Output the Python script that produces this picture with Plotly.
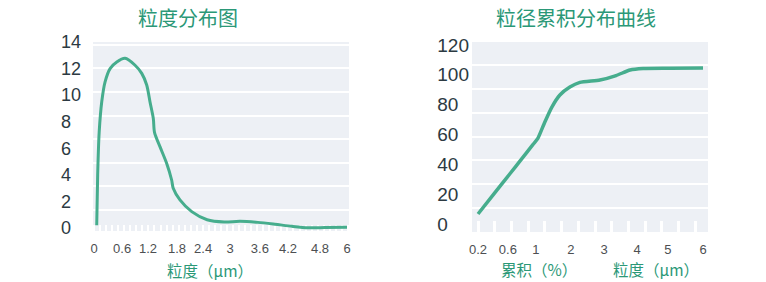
import numpy as np
import plotly.graph_objects as go

# ---------------- particle size distribution ----------------
size_tick_um = [0, 0.6, 1.2, 1.8, 2.4, 3, 3.6, 4.2, 4.8, 6]
size_tick_text = ["0", "0.6", "1.2", "1.8", "2.4", "3", "3.6", "4.2", "4.8", "6"]
freq_ticks = [0, 2, 4, 6, 8, 10, 12, 14]

dist_um = [0.058, 0.078, 0.11, 0.165, 0.236, 0.343, 0.486, 0.669, 0.90, 1.055,
           1.17, 1.241, 1.31, 1.335, 1.448, 1.586, 1.69, 1.723, 1.869, 2.139,
           2.489, 2.867, 3.2, 3.56, 3.92, 4.275, 4.58, 5.02, 6.0]
dist_val = [0.2, 4.0, 7.2, 9.5, 11.0, 12.0, 12.5, 12.77, 12.25, 11.64,
            10.76, 9.5, 8.25, 7.2, 6.12, 4.87, 3.61, 2.99, 2.11, 1.23,
            0.62, 0.45, 0.5, 0.42, 0.28, 0.12, 0.01, 0.03, 0.06]

# ---------------- cumulative distribution ----------------
cum_tick_um = [0.2, 0.6, 1, 2, 3, 4, 5, 6]
cum_tick_text = ["0.2", "0.6", "1", "2", "3", "4", "5", "6"]
cum_ticks = [0, 20, 40, 60, 80, 100, 120]

cum_um = [0.2, 0.413, 0.629, 0.80, 0.957, 1.057, 1.257, 1.457, 1.686, 1.971,
          2.273, 2.879, 3.364, 3.788, 4.194, 5.059, 6.0]
cum_val = [6.7, 20.2, 33.7, 43.8, 53.2, 57.4, 68.4, 78.4, 86.5, 91.8,
           94.9, 96.5, 99.5, 103.2, 104.2, 104.4, 104.6]

# where each tick label sits along its axis (axis units = label slots)
size_tick_slot = [0, 1.0, 1.92, 2.95, 3.88, 4.84, 5.9, 6.9, 8.04, 9.0]
cum_tick_slot = [0, 0.93, 1.8, 2.89, 3.92, 4.95, 5.91, 7.0]

W, H = 766, 282
LINE = "#46ad8d"
GREEN = "#2b9877"
DARK = "#2c3a42"
GREY = "#4d4f52"
CJK = "Noto Sans CJK SC, sans-serif"
NUM = "Liberation Sans, Arial, sans-serif"
NARROW = "Liberation Sans Narrow, Arial Narrow, sans-serif"


def on_tick_scale(values, ticks, slots):
    """Place values on the (non-uniform) label scale of the axis."""
    return np.interp(values, ticks, slots)


def left_aligned(labels):
    width = max(len(s) for s in labels)
    return [s + "\u2007" * (width - len(s)) for s in labels]


def dom_x(a, b):
    return [a / W, b / W]


def dom_y(top, bottom):
    return [1 - bottom / H, 1 - top / H]


fig = go.Figure()

fig.add_trace(go.Scatter(
    x=on_tick_scale(dist_um, size_tick_um, size_tick_slot), y=dist_val,
    mode="lines", line=dict(color=LINE, width=3, shape="spline", smoothing=0.8),
    xaxis="x", yaxis="y", hoverinfo="skip", showlegend=False,
))

fig.add_trace(go.Scatter(
    x=on_tick_scale(cum_um, cum_tick_um, cum_tick_slot), y=cum_val,
    mode="lines", line=dict(color=LINE, width=3.5, shape="spline", smoothing=0.6),
    xaxis="x2", yaxis="y2", hoverinfo="skip", showlegend=False,
))

xcommon = dict(showgrid=False, zeroline=False, showline=False, ticks="",
               automargin=False, layer="below traces",
               tickfont=dict(family=NARROW, size=13, color=GREY),
               ticklabelstandoff=8)
ycommon = dict(showgrid=False, zeroline=False, showline=False, ticks="",
               automargin=False, layer="below traces",
               tickfont=dict(family=NUM, size=18, color=DARK))

fig.update_layout(
    width=W, height=H,
    margin=dict(l=0, r=0, t=0, b=0, autoexpand=False),
    paper_bgcolor="white",
    plot_bgcolor="#edf0f5",
    xaxis=dict(
        xcommon, domain=dom_x(93, 349), anchor="y",
        range=[-0.036, 9.07],
        tickmode="array", tickvals=size_tick_slot,
        ticktext=size_tick_text,
        minor=dict(ticks="inside", ticklen=6, tickwidth=1.5,
                   tickcolor="white", tick0=0, dtick=0.215),
    ),
    yaxis=dict(
        ycommon, domain=dom_y(42, 231), anchor="x",
        range=[-0.23, 14.0],
        tickmode="array", tickvals=freq_ticks,
        ticktext=left_aligned([str(v) for v in freq_ticks]),
        ticklabelstandoff=11,
        minor=dict(showgrid=True, gridcolor="white", gridwidth=1.5,
                   tick0=1.355, dtick=1.777),
    ),
    xaxis2=dict(
        xcommon, domain=dom_x(472, 708), anchor="y2",
        range=[-0.187, 7.156],
        tickmode="array", tickvals=cum_tick_slot,
        ticktext=cum_tick_text,
        minor=dict(ticks="inside", ticklen=11, tickwidth=3,
                   tickcolor="white", tick0=0, dtick=0.52),
    ),
    yaxis2=dict(
        ycommon, domain=dom_y(42, 232), anchor="x2",
        range=[-5.36, 122.0],
        tickmode="array", tickvals=cum_ticks,
        ticktext=left_aligned([str(v) for v in cum_ticks]),
        tickfont=dict(family=NUM, size=19, color=DARK),
        ticklabelstandoff=2,
        minor=dict(showgrid=True, gridcolor="white", gridwidth=1.5,
                   tick0=10.73, dtick=15.96),
    ),
)

texts = [
    ("粒度分布图", 188, 18, 20),
    ("粒径累积分布曲线", 576, 18, 20),
    ("粒度（μm）", 210, 270, 15.5),
    ("累积（%）", 539, 269, 15.5),
    ("粒度（μm）", 656, 269, 15.5),
]
for txt, x, y, size in texts:
    fig.add_annotation(
        text=txt, x=x / W, y=1 - y / H, xref="paper", yref="paper",
        xanchor="center", yanchor="middle", showarrow=False,
        font=dict(family=CJK, size=size, color=GREEN),
    )

fig.write_html("out.html")
